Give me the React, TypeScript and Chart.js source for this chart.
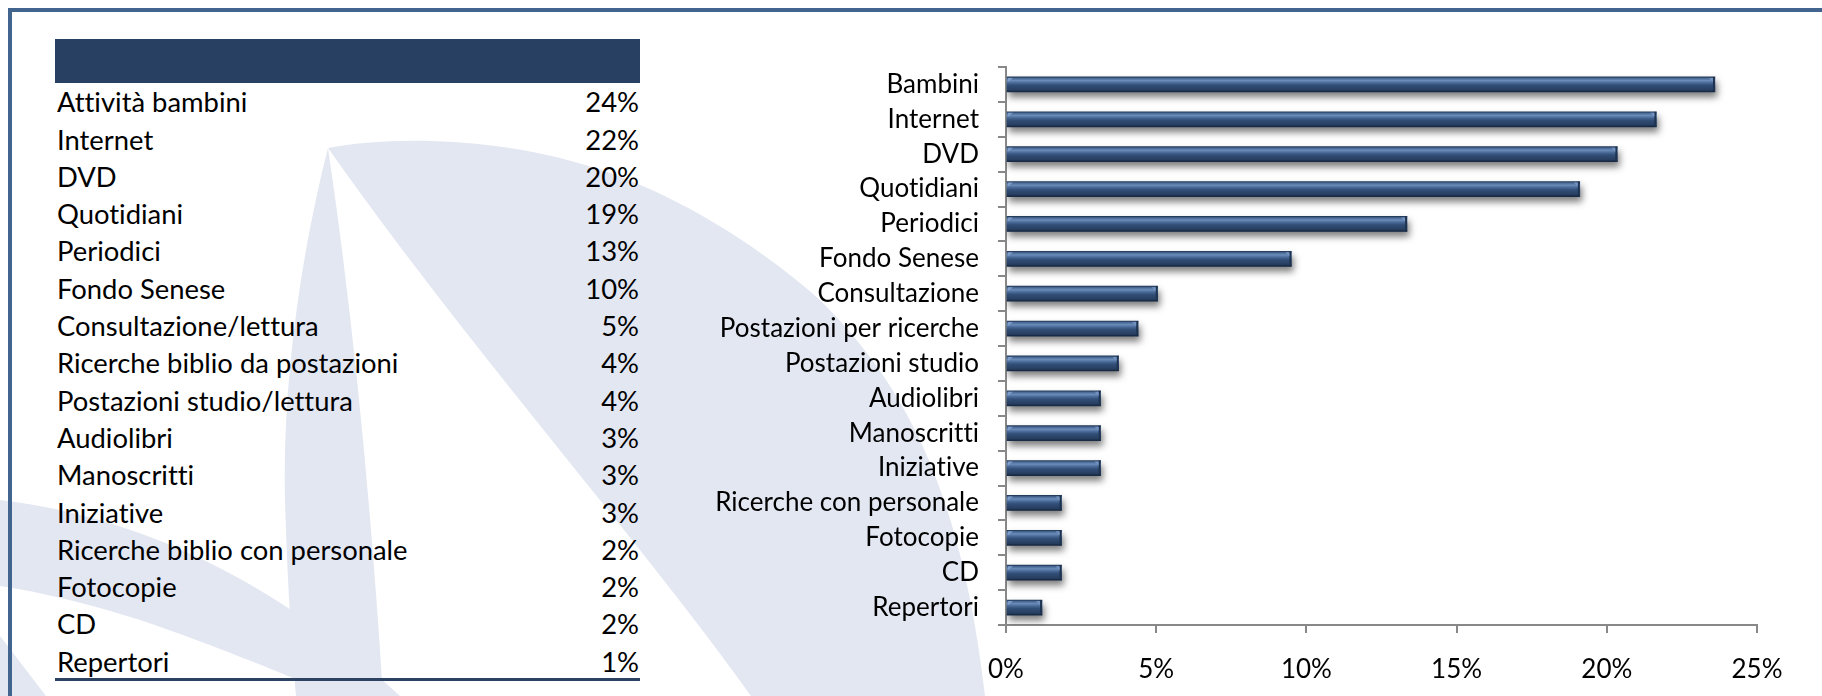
import React, { useEffect, useRef } from "react";
import { Chart, registerables } from "chart.js";

Chart.register(...registerables);

// ---- data ----
const categories = [
  "Bambini",
  "Internet",
  "DVD",
  "Quotidiani",
  "Periodici",
  "Fondo Senese",
  "Consultazione",
  "Postazioni per ricerche",
  "Postazioni studio",
  "Audiolibri",
  "Manoscritti",
  "Iniziative",
  "Ricerche con personale",
  "Fotocopie",
  "CD",
  "Repertori",
];
const shareValues = [23.6, 21.65, 20.35, 19.1, 13.35, 9.5, 5.05, 4.4, 3.75, 3.15, 3.15, 3.15, 1.85, 1.85, 1.85, 1.2];
const xTickValues = [0, 5, 10, 15, 20, 25];

const tableLabels = [
  "Attività bambini",
  "Internet",
  "DVD",
  "Quotidiani",
  "Periodici",
  "Fondo Senese",
  "Consultazione/lettura",
  "Ricerche biblio da postazioni",
  "Postazioni studio/lettura",
  "Audiolibri",
  "Manoscritti",
  "Iniziative",
  "Ricerche biblio con personale",
  "Fotocopie",
  "CD",
  "Repertori",
];
const tableValues = ["24%", "22%", "20%", "19%", "13%", "10%", "5%", "4%", "4%", "3%", "3%", "3%", "2%", "2%", "2%", "1%"];

const FONT = "Lato, 'Open Sans', sans-serif";
const NAVY = "#284062";
const SWOOSH = "#e3e7f2";

const TABLE_FONT = 27.4;
const ROW_H = 37.3;
const FIRST_BASELINE = 112.5;
const BAR_T = 15;

export default function App() {
  const ref = useRef<HTMLCanvasElement>(null);

  useEffect(() => {
    const canvas = ref.current!;
    const textPlugin = {
      id: "noLigatures",
      beforeDraw(chart: any) {
        const c = chart.ctx as any;
        try {
          c.textRendering = "optimizeSpeed";
        } catch (e) {}
        try {
          c.letterSpacing = "0.01px";
        } catch (e) {}
      },
    };
    const shadowPlugin = {
      id: "barShadow",
      beforeDatasetsDraw(chart: any) {
        const c = chart.ctx;
        c.save();
        c.shadowColor = "rgba(0,0,0,0.5)";
        c.shadowBlur = 7;
        c.shadowOffsetX = 2;
        c.shadowOffsetY = 5;
      },
      afterDatasetsDraw(chart: any) {
        const c = chart.ctx;
        c.restore();
        // bevelled bar ends
        const meta = chart.getDatasetMeta(0);
        c.save();
        meta.data.forEach((el: any) => {
          const p = el.getProps(["x", "y", "base", "height"], true);
          const top = p.y - p.height / 2;
          const bot = p.y + p.height / 2;
          const xr = p.x;
          c.fillStyle = "#1e3350";
          c.fillRect(xr - 2, top, 2, p.height);
          c.fillStyle = "rgba(120,150,195,0.9)";
          c.beginPath();
          c.moveTo(xr - 6, top + 1);
          c.lineTo(xr - 2, top + 1);
          c.lineTo(xr - 2, top + 5);
          c.closePath();
          c.fill();
          c.fillStyle = "rgba(130,160,205,0.9)";
          c.beginPath();
          c.moveTo(p.base + 1, top + 1);
          c.lineTo(p.base + 6, top + 1);
          c.lineTo(p.base + 1, top + 5);
          c.closePath();
          c.fill();
          c.fillStyle = "rgba(20,35,60,0.5)";
          c.fillRect(p.base, bot - 1, xr - p.base, 1);
        });
        c.restore();
      },
    };

    const chart = new Chart(canvas, {
      type: "bar",
      data: {
        labels: categories,
        datasets: [
          {
            data: shareValues,
            barThickness: BAR_T,
            borderWidth: 0,
            backgroundColor: (c: any) => {
              const ch = c.chart;
              const ys = ch.scales && ch.scales.y;
              if (!ys || c.dataIndex === undefined) return "#2e4a6f";
              const mid = ys.getPixelForValue(c.dataIndex);
              if (!Number.isFinite(mid)) return "#2e4a6f";
              const g = ch.ctx.createLinearGradient(0, mid - BAR_T / 2, 0, mid + BAR_T / 2);
              g.addColorStop(0, "#233957");
              g.addColorStop(0.1, "#4a6b98");
              g.addColorStop(0.24, "#6b8cb8");
              g.addColorStop(0.4, "#486895");
              g.addColorStop(0.56, "#314e77");
              g.addColorStop(0.85, "#283f61");
              g.addColorStop(1, "#1b2f4a");
              return g;
            },
          },
        ],
      },
      options: {
        indexAxis: "y",
        responsive: false,
        animation: false,
        devicePixelRatio: 1,
        layout: { padding: { top: 67, right: 65, left: 0, bottom: 0 } },
        plugins: { legend: { display: false }, tooltip: { enabled: false } },
        scales: {
          x: {
            type: "linear",
            min: 0,
            max: 25,
            afterBuildTicks: (s: any) => {
              s.ticks = xTickValues.map((v) => ({ value: v }));
            },
            afterFit: (s: any) => {
              s.height = 71;
              s.paddingLeft = 0;
              s.paddingRight = 0;
            },
            ticks: {
              callback: (v: any) => v + "%",
              font: { family: FONT, size: 26 },
              color: "#000",
              padding: 21,
              maxRotation: 0,
            },
            grid: { drawOnChartArea: false, tickLength: 8, color: "#888", lineWidth: 2 },
            border: { color: "#888", width: 2 },
          },
          y: {
            type: "category",
            afterFit: (s: any) => {
              s.width = 306;
              s.paddingTop = 0;
              s.paddingBottom = 0;
            },
            ticks: {
              font: { family: FONT, size: 26 },
              color: "#000",
              padding: 19,
              autoSkip: false,
            },
            grid: { drawOnChartArea: false, tickLength: 8, color: "#888", lineWidth: 2, offset: true },
            border: { color: "#888", width: 2 },
          },
        },
      } as any,
      plugins: [textPlugin, shadowPlugin],
    });
    return () => chart.destroy();
  }, []);

  const ascent = 0.987 * TABLE_FONT;
  const content = 1.2 * TABLE_FONT;
  const baseOff = (ROW_H - content) / 2 + ascent;

  return (
    <div
      style={{
        position: "absolute",
        left: 0,
        top: 0,
        width: 1822,
        height: 696,
        overflow: "hidden",
        background: "#fff",
        fontFamily: FONT,
        fontVariantLigatures: "none",
      }}
    >
      <svg width={1822} height={696} style={{ position: "absolute", left: 0, top: 0 }}>
        <path
          d="M328,148 C380,138 470,136 560,158 C650,180 740,230 820,300 C900,380 960,480 985,696 L751,696 C640,540 470,350 328,148 Z"
          fill={SWOOSH}
        />
        <path d="M328,148 C302,250 282,380 285,500 C288,600 292,650 296,696 L383,696 C372,520 355,330 328,148 Z" fill={SWOOSH} />
        <path d="M0,500 C130,515 270,575 400,696 L335,696 C280,672 200,640 140,620 C90,604 40,592 0,586 Z" fill={SWOOSH} />
        <path d="M0,636 L46,696 L0,696 Z" fill={SWOOSH} />
      </svg>

      {/* frame */}
      <div style={{ position: "absolute", left: 8, top: 8, width: 1814, height: 4, background: "#41658f" }} />
      <div style={{ position: "absolute", left: 8, top: 8, width: 4, height: 688, background: "#41658f" }} />

      {/* table */}
      <div style={{ position: "absolute", left: 55, top: 39, width: 585, height: 44, background: NAVY }} />
      {tableLabels.map((lab, i) => (
        <div
          key={lab}
          style={{
            position: "absolute",
            left: 57,
            width: 582,
            top: FIRST_BASELINE + ROW_H * i - baseOff,
            height: ROW_H,
            lineHeight: ROW_H + "px",
            fontSize: TABLE_FONT,
            color: "#000",
            display: "flex",
            justifyContent: "space-between",
            whiteSpace: "nowrap",
          }}
        >
          <span>{lab}</span>
          <span>{tableValues[i]}</span>
        </div>
      ))}
      <div style={{ position: "absolute", left: 55, top: 678, width: 585, height: 3, background: "#2b4263" }} />

      <canvas
        ref={ref}
        width={1122}
        height={696}
        style={{ position: "absolute", left: 700, top: 0, width: 1122, height: 696 }}
      />
    </div>
  );
}
